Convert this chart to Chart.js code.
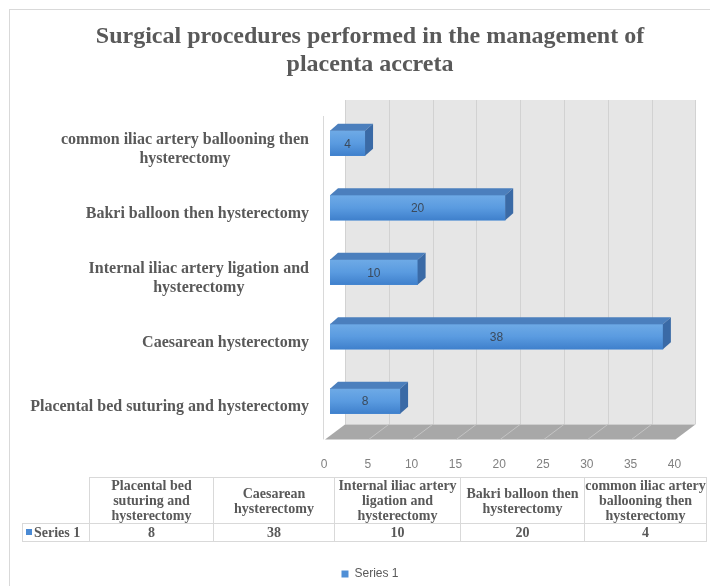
<!DOCTYPE html>
<html>
<head>
<meta charset="utf-8">
<script src="https://cdn.jsdelivr.net/npm/chart.js@4.4.1/dist/chart.umd.min.js"></script>
<style>
  body { margin: 0; background: #fff; }
  #page { position: relative; width: 710px; height: 586px; overflow: hidden; }
  #box { position: absolute; left: 9px; top: 9px; width: 720px; height: 580px;
         border-left: 1px solid #d9d9d9; border-top: 1px solid #d9d9d9; }
  #data-table { position: absolute; left: 22px; top: 477px; border-collapse: collapse; table-layout: fixed;
                font-family: "Liberation Serif", serif; font-weight: bold; font-size: 14px; color: #595959; }
  #data-table td { border: 1px solid #d9d9d9; text-align: center; padding: 0; white-space: nowrap; }
  #data-table tr.head td { height: 45px; line-height: 15px; }
  #data-table tr.vals td { height: 17px; line-height: 17px; }
  #data-table td.empty { border: none; }
  #data-table td.rowhead { text-align: left; padding-left: 3px; }
  .key { display: inline-block; width: 6px; height: 6px; background: #4a8ad4; margin-right: 2px; vertical-align: 2px; }
</style>
</head>
<body>
<div id="page">
  <div id="box"><canvas id="myChart"></canvas></div>
  <table id="data-table"></table>
</div>
<script>
let titleLines = ['Surgical procedures performed in the management of', 'placenta accreta'];
let categories = ['Placental bed suturing and hysterectomy', 'Caesarean hysterectomy',
  'Internal iliac artery ligation and hysterectomy', 'Bakri balloon then hysterectomy',
  'common iliac artery ballooning then hysterectomy'];
let axisLabels = [
  ['Placental bed suturing and hysterectomy'],
  ['Caesarean hysterectomy'],
  ['Internal iliac artery ligation and', 'hysterectomy'],
  ['Bakri balloon then hysterectomy'],
  ['common iliac artery ballooning then', 'hysterectomy']
];
let tableLabels = [
  ['Placental bed', 'suturing and', 'hysterectomy'],
  ['Caesarean', 'hysterectomy'],
  ['Internal iliac artery', 'ligation and', 'hysterectomy'],
  ['Bakri balloon then', 'hysterectomy'],
  ['common iliac artery', 'ballooning then', 'hysterectomy']
];
let seriesName = 'Series 1';
let series1 = [8, 38, 10, 20, 4];
let xMin = 0;
let xMax = 40;
let xStep = 5;

const colWidths = [67, 124, 121, 126, 124, 122];

// 3d look: back wall + floor, bar top/side faces, labels
const depth = { dx: 15, dy: 15 };
const barDepth = { dx: 8, dy: 7 };

const boxPlugin = {
  id: 'box3d',
  beforeDatasetsDraw(chart) {
    const ctx = chart.ctx;
    const xs = chart.scales.x;
    const area = chart.chartArea;
    const x0 = xs.getPixelForValue(xMin);
    const x1 = xs.getPixelForValue(xMax);
    const wallTop = area.top - 11;
    const floorBack = area.bottom - 9;
    const floorFront = area.bottom + 6;
    ctx.save();
    // back wall
    ctx.fillStyle = '#e6e6e6';
    ctx.fillRect(x0 + depth.dx, wallTop, x1 - x0, floorBack - wallTop);
    ctx.strokeStyle = '#d2d2d2';
    ctx.lineWidth = 1;
    for (let v = xMin; v <= xMax; v += xStep) {
      const gx = Math.round(xs.getPixelForValue(v) + depth.dx) + 0.5;
      ctx.beginPath();
      ctx.moveTo(gx, wallTop);
      ctx.lineTo(gx, floorBack);
      ctx.stroke();
    }
    // floor
    ctx.fillStyle = '#a8a8a8';
    ctx.beginPath();
    ctx.moveTo(x0 - 5, floorFront);
    ctx.lineTo(x1 - 5, floorFront);
    ctx.lineTo(x1 + depth.dx, floorBack);
    ctx.lineTo(x0 + depth.dx, floorBack);
    ctx.closePath();
    ctx.fill();
    ctx.strokeStyle = '#c4c4c4';
    for (let v = xMin + xStep; v < xMax; v += xStep) {
      const gx = xs.getPixelForValue(v);
      ctx.beginPath();
      ctx.moveTo(gx - 5, floorFront);
      ctx.lineTo(gx + depth.dx, floorBack);
      ctx.stroke();
    }
    // side wall edge
    ctx.strokeStyle = '#d9d9d9';
    ctx.beginPath();
    ctx.moveTo(Math.round(x0 - 7) + 0.5, area.top + 5);
    ctx.lineTo(Math.round(x0 - 7) + 0.5, floorFront);
    ctx.stroke();
    ctx.restore();
  },
  afterDatasetsDraw(chart) {
    const ctx = chart.ctx;
    const bars = chart.getDatasetMeta(0).data;
    ctx.save();
    bars.forEach((bar, i) => {
      const left = bar.base;
      const right = bar.x;
      const top = bar.y - bar.height / 2;
      const bottom = bar.y + bar.height / 2;
      // front gradient
      const g = ctx.createLinearGradient(0, top, 0, bottom);
      g.addColorStop(0, '#6eaae6');
      g.addColorStop(0.5, '#5a9be0');
      g.addColorStop(1, '#3f80cc');
      ctx.fillStyle = g;
      ctx.fillRect(left, top, right - left, bottom - top);
      // top face
      ctx.fillStyle = '#4b7fbd';
      ctx.beginPath();
      ctx.moveTo(left, top);
      ctx.lineTo(right, top);
      ctx.lineTo(right + barDepth.dx, top - barDepth.dy);
      ctx.lineTo(left + barDepth.dx, top - barDepth.dy);
      ctx.closePath();
      ctx.fill();
      // side face
      ctx.fillStyle = '#3a6aa6';
      ctx.beginPath();
      ctx.moveTo(right, top);
      ctx.lineTo(right + barDepth.dx, top - barDepth.dy);
      ctx.lineTo(right + barDepth.dx, bottom - barDepth.dy);
      ctx.lineTo(right, bottom);
      ctx.closePath();
      ctx.fill();
      // value label
      ctx.fillStyle = '#3b4a5c';
      ctx.font = '12px "Liberation Sans", sans-serif';
      ctx.textAlign = 'center';
      ctx.textBaseline = 'middle';
      ctx.fillText(String(series1[i]), (left + right) / 2, bar.y + 1);
    });
    ctx.restore();
  },
  afterDraw(chart) {
    const ctx = chart.ctx;
    const ys = chart.scales.y;
    const rightEdge = chart.scales.x.getPixelForValue(xMin) - 21;
    const lineH = 19;
    ctx.save();
    ctx.font = 'bold 16px "Liberation Serif", serif';
    ctx.fillStyle = '#595959';
    ctx.textAlign = 'center';
    ctx.textBaseline = 'middle';
    axisLabels.forEach((lines, i) => {
      const cy = ys.getPixelForValue(i) + 6;
      let w = 0;
      lines.forEach(l => { w = Math.max(w, ctx.measureText(l).width); });
      const cx = rightEdge - w / 2;
      lines.forEach((l, j) => {
        ctx.fillText(l, cx, cy + (j - (lines.length - 1) / 2) * lineH);
      });
    });
    ctx.restore();
  }
};

function renderTable() {
  const table = document.getElementById('data-table');
  let html = '<colgroup>';
  colWidths.forEach(w => { html += `<col style="width:${w}px">`; });
  html += '</colgroup><tr class="head"><td class="empty"></td>';
  tableLabels.forEach(lines => { html += `<td>${lines.join('<br>')}</td>`; });
  html += `</tr><tr class="vals"><td class="rowhead"><span class="key"></span>${seriesName}</td>`;
  series1.forEach(v => { html += `<td>${v}</td>`; });
  html += '</tr>';
  table.innerHTML = html;
}

function renderChart() {
  const ctx = document.getElementById('myChart');
  new Chart(ctx, {
    type: 'bar',
    data: {
      labels: categories,
      datasets: [{
        label: seriesName,
        data: series1,
        backgroundColor: '#4f8fd6',
        barThickness: 25
      }]
    },
    options: {
      indexAxis: 'y',
      responsive: true,
      maintainAspectRatio: false,
      animation: false,
      layout: { padding: 0 },
      scales: {
        x: {
          min: xMin,
          max: xMax,
          grid: { display: false },
          border: { display: false },
          ticks: {
            stepSize: xStep,
            color: '#808080',
            font: { family: '"Liberation Sans", sans-serif', size: 12 },
            padding: 16,
            labelOffset: -6
          },
          afterFit(scale) { scale.height = 124.6; }
        },
        y: {
          reverse: true,
          grid: { display: false },
          border: { display: false },
          ticks: { display: false },
          afterFit(scale) { scale.width = 320; }
        },
        y2: {
          type: 'category',
          position: 'right',
          grid: { display: false },
          border: { display: false },
          ticks: { display: false },
          afterFit(scale) { scale.width = 49.6; }
        }
      },
      plugins: {
        title: {
          display: true,
          text: titleLines,
          color: '#595959',
          font: { family: '"Liberation Serif", serif', size: 24, weight: 'bold', lineHeight: 1.15 },
          padding: { top: 13.2, bottom: 32.6 }
        },
        legend: {
          position: 'bottom',
          labels: {
            boxWidth: 7,
            boxHeight: 7,
            color: '#595959',
            font: { family: '"Liberation Sans", sans-serif', size: 12 }
          }
        },
        tooltip: { enabled: false }
      }
    },
    plugins: [boxPlugin]
  });
}

renderTable();
renderChart();
</script>
</body>
</html>
